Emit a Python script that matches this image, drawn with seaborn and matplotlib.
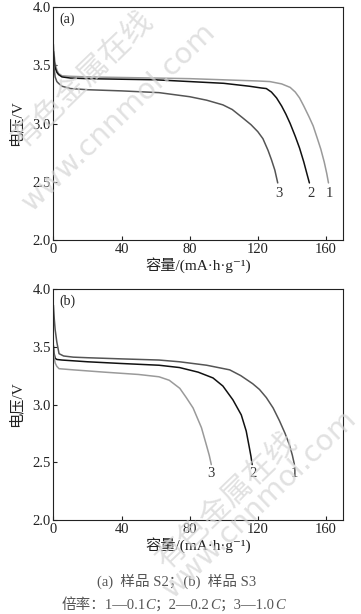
import pandas as pd
import matplotlib
matplotlib.use("Agg")
import matplotlib.pyplot as plt
import seaborn as sns

# (a) 样品 S2 放电曲线
a1_cap = [0, 0.5, 1, 2, 3, 5, 10, 20, 40, 60, 80, 100, 120, 127, 134, 139, 142, 144.5, 147, 150, 152.5, 155, 157, 159, 160.5, 161.5]
a1_v = [3.68, 3.58, 3.52, 3.46, 3.43, 3.41, 3.405, 3.40, 3.395, 3.39, 3.385, 3.375, 3.365, 3.36, 3.34, 3.31, 3.27, 3.22, 3.15, 3.06, 2.98, 2.87, 2.78, 2.67, 2.57, 2.49]
a2_cap = [0, 0.5, 1, 2, 3, 5, 10, 20, 40, 60, 80, 100, 115, 122, 125, 128, 131, 134, 136.5, 139, 142, 144.5, 147, 149, 150.3]
a2_v = [3.62, 3.53, 3.48, 3.44, 3.42, 3.40, 3.39, 3.385, 3.38, 3.375, 3.36, 3.345, 3.32, 3.305, 3.30, 3.27, 3.22, 3.15, 3.08, 3.00, 2.89, 2.79, 2.67, 2.56, 2.49]
a3_cap = [0, 0.5, 1, 2, 3, 5, 10, 20, 40, 62, 80, 90, 99.5, 105, 111, 116, 120, 123, 126, 128, 130, 131.7]
a3_v = [3.56, 3.46, 3.40, 3.36, 3.345, 3.32, 3.30, 3.29, 3.28, 3.265, 3.23, 3.20, 3.16, 3.12, 3.05, 2.99, 2.93, 2.87, 2.77, 2.69, 2.60, 2.49]

# (b) 样品 S3 放电曲线
b1_cap = [0, 0.5, 1, 2, 3.3, 6, 11.7, 20, 40, 62, 74, 90, 103.5, 110, 117, 121, 125, 129, 132.7, 136, 138.6, 140.3, 141.5]
b1_v = [3.86, 3.74, 3.65, 3.54, 3.44, 3.42, 3.41, 3.405, 3.395, 3.385, 3.37, 3.34, 3.30, 3.25, 3.18, 3.13, 3.06, 2.97, 2.86, 2.75, 2.65, 2.56, 2.48]
b2_cap = [0, 0.3, 1, 2, 5, 20, 40, 62, 74, 85, 93.7, 99.5, 105.4, 110.3, 113.2, 115, 116, 116.7]
b2_v = [3.51, 3.45, 3.40, 3.39, 3.385, 3.37, 3.355, 3.34, 3.32, 3.28, 3.23, 3.16, 3.04, 2.91, 2.77, 2.63, 2.55, 2.48]
b3_cap = [0, 0.3, 1, 2, 3.3, 11.7, 30, 50, 62, 68, 74.2, 78, 82, 86.9, 89.8, 91.5, 92.7]
b3_v = [3.47, 3.42, 3.36, 3.33, 3.31, 3.30, 3.28, 3.26, 3.24, 3.21, 3.14, 3.06, 2.97, 2.80, 2.65, 2.56, 2.48]

# 曲线编号标注
a_lab_cap = [162.0, 151.3, 132.7]
b_lab_cap = [141.5, 117.0, 92.7]
lab_v = 2.40
lab_txt = ["1", "2", "3"]

x_ticks = [0, 40, 80, 120, 160]
y_ticks = [2.0, 2.5, 3.0, 3.5, 4.0]


def make_df(curves):
    parts = []
    for name, cap, v in curves:
        parts.append(pd.DataFrame({"cap": cap, "v": v, "curve": name}))
    return pd.concat(parts, ignore_index=True)


df_a = make_df([("1", a1_cap, a1_v), ("2", a2_cap, a2_v), ("3", a3_cap, a3_v)])
df_b = make_df([("1", b1_cap, b1_v), ("2", b2_cap, b2_v), ("3", b3_cap, b3_v)])

pal_a = {"1": "#9a9a9a", "2": "#111111", "3": "#555555"}
pal_b = {"1": "#555555", "2": "#111111", "3": "#9a9a9a"}

sns.set_style("ticks")
plt.rcParams['font.family'] = ['Liberation Serif', 'Noto Sans CJK SC', 'DejaVu Serif']
plt.rcParams['xtick.direction'] = 'in'
plt.rcParams['ytick.direction'] = 'in'
plt.rcParams['axes.edgecolor'] = '#222222'
plt.rcParams['axes.linewidth'] = 0.8

fig = plt.figure(figsize=(3.61, 6.14), dpi=100)
ax_a = fig.add_axes([0.148, 0.6091, 0.802, 0.3795])
ax_b = fig.add_axes([0.148, 0.1531, 0.802, 0.3762])

for ax, df, pal, lab_cap, tag in [(ax_a, df_a, pal_a, a_lab_cap, "(a)"),
                                  (ax_b, df_b, pal_b, b_lab_cap, "(b)")]:
    sns.lineplot(data=df, x="cap", y="v", hue="curve", palette=pal, ax=ax,
                 sort=False, estimator=None, legend=False, linewidth=1.1)
    ax.set_xlim(0, 170)
    ax.set_ylim(2.0, 4.0)
    ax.set_xticks(x_ticks)
    ax.set_yticks(y_ticks)
    ax.set_yticklabels(["%.1f" % t for t in y_ticks])
    ax.tick_params(length=3, width=0.8, labelsize=10.5, colors="#222222", pad=2)
    for sp in ax.spines.values():
        sp.set_visible(True)
    ax.set_xlabel("容量/(mA·h·g⁻¹)", fontsize=11, labelpad=1, color="#222222")
    ax.set_ylabel("电压/V", fontsize=11, labelpad=6, color="#222222")
    ax.text(0.02, 0.975, tag, transform=ax.transAxes, fontsize=10, va="top", ha="left", color="#222222")
    for c, t in zip(lab_cap, lab_txt):
        ax.text(c, lab_v, t, fontsize=10.5, ha="center", va="center", color="#333333")

# 图注
cap_color = "#555555"
fig.text(0.488, 0.0525, "(a)  样品 S2；(b)  样品 S3", ha="center", va="center", fontsize=10.5, color=cap_color)

# 第二行：C 用斜体，逐段拼接
pieces = [("C", "italic"), ("；2—0.2", "normal"), ("C", "italic"),
          ("；3—1.0", "normal"), ("C", "italic")]
prev = fig.text(0.17, 0.0145, "倍率：1—0.1", ha="left", va="center", fontsize=10.5, color=cap_color)
for txt, style in pieces:
    prev = plt.annotate(txt, xycoords=prev, xy=(1, 0.5), va="center", ha="left",
                        fontsize=10.5, color=cap_color, style=style, annotation_clip=False)

# 水印
wm = "#d4d4d4"
fig.text(0.23, 0.87, "有色金属在线", rotation=44, ha="center", va="center", fontsize=22,
         color=wm, alpha=0.7, family="Noto Sans CJK SC")
fig.text(0.33, 0.81, "www.cnnmol.com", rotation=44, ha="center", va="center", fontsize=21,
         color=wm, alpha=0.7, family="DejaVu Sans")
fig.text(0.63, 0.185, "有色金属在线", rotation=44, ha="center", va="center", fontsize=22,
         color=wm, alpha=0.7, family="Noto Sans CJK SC")
fig.text(0.72, 0.18, "www.cnnmol.com", rotation=44, ha="center", va="center", fontsize=21,
         color=wm, alpha=0.7, family="DejaVu Sans")

fig.savefig("out.png", dpi=100)
